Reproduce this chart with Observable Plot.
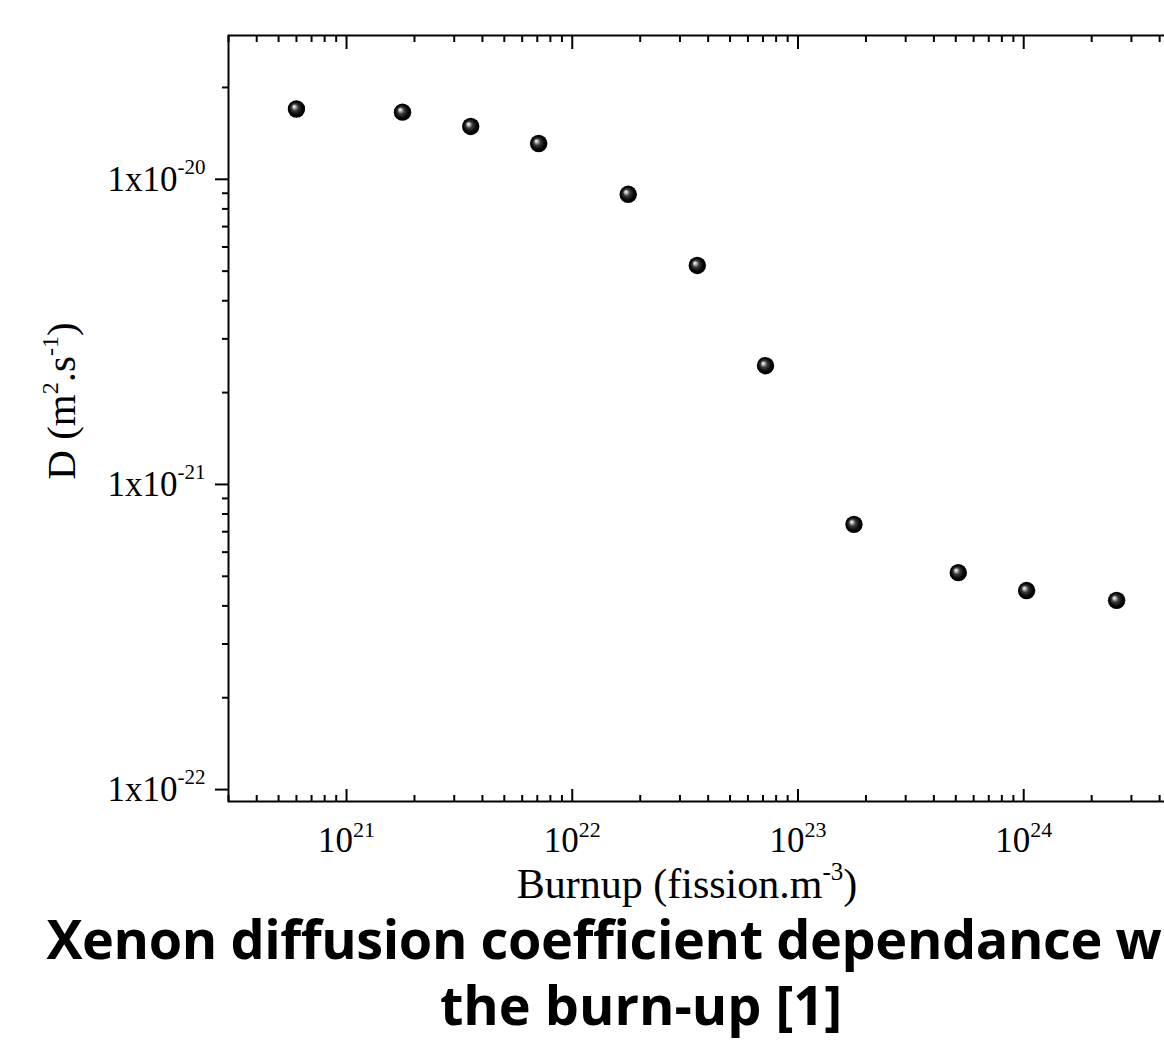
<!DOCTYPE html>
<html><head><meta charset="utf-8">
<script src="https://cdn.jsdelivr.net/npm/d3@7"></script>
<script src="https://cdn.jsdelivr.net/npm/@observablehq/plot@0.6"></script>
<style>
html,body{margin:0;padding:0;background:#fff;overflow:hidden;width:1164px;height:1052px;}
#wrap{position:relative;width:1282px;height:1052px;}
#chart svg{display:block;}
#title{position:absolute;left:0;top:905px;width:1282px;text-align:center;font-family:"Open Sans",sans-serif;font-weight:700;font-size:54px;line-height:66px;color:#000;white-space:nowrap;}
#title .l1{letter-spacing:-0.4px;}
</style></head><body>
<div id="wrap"><div id="chart"></div><div id="title"><span class="l1">Xenon diffusion coefficient dependance with</span><br>the burn-up [1]</div></div>
<script>
// Data
const burnup = [6e20, 1.77e21, 3.55e21, 7.1e21, 1.77e22, 3.58e22, 7.18e22, 1.77e23, 5.13e23, 1.03e24, 2.58e24];
const diffusion = [1.70e-20, 1.66e-20, 1.49e-20, 1.31e-20, 8.93e-21, 5.22e-21, 2.45e-21, 7.40e-22, 5.14e-22, 4.49e-22, 4.17e-22];
const xMajorTicks = [1e21, 1e22, 1e23, 1e24];
const yMajorTicks = [1e-22, 1e-21, 1e-20];
const xDomain = [3e20, 5e24];
const yDomain = [9.14e-23, 2.96e-20];

const data = burnup.map((b, i) => ({burnup: b, D: diffusion[i]}));
const isPow10 = v => Math.abs(Math.log10(v) - Math.round(Math.log10(v))) < 1e-9;
const xMinor = d3.scaleLog().domain(xDomain).ticks().filter(v => !isPow10(v));
const yMinor = d3.scaleLog().domain(yDomain).ticks().filter(v => !isPow10(v));
const fmtX = d => "10^" + Math.round(Math.log10(d));
const fmtY = d => "1x10^" + Math.round(Math.log10(d));
const blank = () => "";

const chart = Plot.plot({
  width: 1282, height: 910,
  marginLeft: 228, marginRight: 101, marginTop: 35, marginBottom: 109,
  style: {fontFamily: '"Liberation Serif", "Times New Roman", serif', fontSize: "35px", color: "#000", background: "#fff"},
  x: {type: "log", domain: xDomain},
  y: {type: "log", domain: yDomain},
  marks: [
    Plot.axisX({anchor: "bottom", ticks: xMajorTicks, tickSize: 0, tickPadding: 26, tickFormat: fmtX, label: null}),
    Plot.axisX({anchor: "bottom", ticks: xMajorTicks, tickSize: -12, tickFormat: blank, strokeWidth: 2, label: null}),
    Plot.axisX({anchor: "bottom", ticks: xMinor, tickSize: -6, tickFormat: blank, strokeWidth: 2, label: null}),
    Plot.axisX({anchor: "top", ticks: xMajorTicks, tickSize: -13, tickFormat: blank, strokeWidth: 2, label: null}),
    Plot.axisX({anchor: "top", ticks: xMinor, tickSize: -6, tickFormat: blank, strokeWidth: 2, label: null}),
    Plot.axisY({anchor: "left", ticks: yMajorTicks, tickSize: 13, tickPadding: 10, tickFormat: fmtY, strokeWidth: 2, label: null}),
    Plot.axisY({anchor: "left", ticks: yMinor, tickSize: 6, tickFormat: blank, strokeWidth: 2, label: null}),
    Plot.frame({strokeWidth: 2}),
    Plot.dot(data, {x: "burnup", y: "D", r: 8.7, fill: "url(#ball)", stroke: "none"})
  ]
});

const svg = d3.select(chart);
const grad = svg.insert("defs", ":first-child").append("radialGradient")
  .attr("id", "ball").attr("cx", "0.5").attr("cy", "0.5").attr("r", "0.5")
  .attr("fx", "0.35").attr("fy", "0.35");
[[0, "#ffffff"], [0.12, "#d0d0d0"], [0.4, "#3a3a3a"], [0.75, "#050505"], [1, "#000000"]]
  .forEach(([o, c]) => grad.append("stop").attr("offset", o).attr("stop-color", c));

// superscripts in tick labels
svg.selectAll("text").each(function () {
  const t = this.textContent;
  if (!t.includes("^")) return;
  const [base, exp] = t.split("^");
  const isY = base.startsWith("1x");
  const s = d3.select(this);
  s.text(base);
  s.append("tspan").attr("font-size", isY ? 21 : 22).attr("dy", isY ? -17 : -15).text(exp);
});

// axis titles
const xl = svg.append("text").attr("x", 687).attr("y", 898).attr("text-anchor", "middle").attr("font-size", 42).attr("fill", "#000");
xl.append("tspan").text("Burnup (fission.m");
xl.append("tspan").attr("font-size", 25).attr("dy", -18).text("-3");
xl.append("tspan").attr("dy", 18).text(")");

const yl = svg.append("text").attr("transform", "translate(75,401) rotate(-90)").attr("text-anchor", "middle").attr("font-size", 41).attr("fill", "#000");
yl.append("tspan").text("D (m");
yl.append("tspan").attr("font-size", 24).attr("dy", -17).text("2");
yl.append("tspan").attr("dy", 17).text(".s");
yl.append("tspan").attr("font-size", 24).attr("dy", -17).text("-1");
yl.append("tspan").attr("dy", 17).text(")");

document.getElementById("chart").appendChild(chart);
</script>
</body></html>
